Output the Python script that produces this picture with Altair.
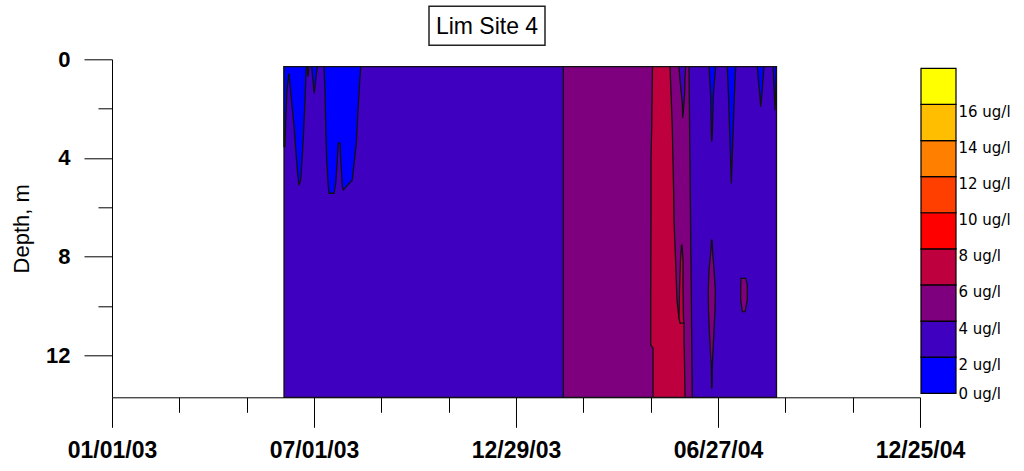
import altair as alt
import pandas as pd
from datetime import datetime

FONT = "Liberation Sans"

# ---------------- colour classes (ug/l) ----------------
CLASS_LO = [0, 2, 4, 6, 8, 10, 12, 14, 16]
CLASS_HI = [2, 4, 6, 8, 10, 12, 14, 16, 18]
CLASS_MID = [1, 3, 5, 7, 9, 11, 13, 15, 17]
CLASS_COLORS = ["#0000FF", "#3F00BF", "#7F007F", "#BF003F", "#FF0000",
                "#FF3F00", "#FF7F00", "#FFBF00", "#FFFF00"]
THRESHOLDS = [2, 4, 6, 8, 10, 12, 14, 16]
LEGEND_LABEL_VALUES = [0, 2, 4, 6, 8, 10, 12, 14, 16]

# ---------------- axes ----------------
X_DOMAIN = ["2003-01-01T00:00", "2004-12-25T00:00"]
X_MAJOR = ["2003-01-01T00:00", "2003-07-01T00:00", "2003-12-29T00:00",
           "2004-06-27T00:00", "2004-12-25T00:00"]
X_MINOR = ["2003-03-02T08:00", "2003-05-01T16:00", "2003-08-30T08:00",
           "2003-10-29T16:00", "2004-02-27T08:00", "2004-04-27T16:00",
           "2004-08-26T08:00", "2004-10-25T16:00"]
Y_DOMAIN = [0, 13.7]
Y_MAJOR = [0, 4, 8, 12]
Y_MINOR = [2, 6, 10]

# ---------------- measured section ----------------
DATA_START = "2003-06-04T03:00"
DATA_END = "2004-08-18T10:00"
DATA_TOP = 0.3
DATA_BOTTOM = 13.7
BASE_CONC = 3  # 2-4 ug/l everywhere else

# blue (0-2 ug/l) fingers hanging from the surface: date, lower depth
FINGER_A_DATES = ["2003-06-04T03:00", "2003-06-05T00:00", "2003-06-05T15:00", "2003-06-06T19:00",
                  "2003-06-08T14:00", "2003-06-10T09:00", "2003-06-13T02:00", "2003-06-16T01:00",
                  "2003-06-17T13:00", "2003-06-19T02:00", "2003-06-21T04:00", "2003-06-22T23:00",
                  "2003-06-24T02:00"]
FINGER_A_DEPTHS = [3.54, 3.54, 2.59, 1.24, 0.57, 1.45, 2.73, 4.49, 5.10, 4.89, 3.41, 1.65, 0.3]
FINGER_A2_DATES = ["2003-06-24T18:00", "2003-06-25T15:00", "2003-06-26T12:00"]
FINGER_A2_DEPTHS = [0.3, 0.7, 0.3]
FINGER_A3_DATES = ["2003-06-28T23:00", "2003-06-30T03:00", "2003-07-01T06:00",
                   "2003-07-02T08:00", "2003-07-03T23:00"]
FINGER_A3_DEPTHS = [0.3, 0.9, 1.38, 0.9, 0.3]
FINGER_B_DATES = ["2003-07-09T23:00", "2003-07-10T21:00", "2003-07-11T12:00", "2003-07-12T09:00",
                  "2003-07-13T20:00", "2003-07-14T11:00", "2003-07-18T22:00", "2003-07-20T11:00",
                  "2003-07-21T21:00", "2003-07-22T19:00", "2003-07-24T07:00", "2003-07-24T22:00",
                  "2003-07-26T09:00", "2003-07-27T06:00", "2003-08-04T08:00", "2003-08-07T22:00",
                  "2003-08-09T10:00", "2003-08-11T05:00", "2003-08-11T20:00"]
FINGER_B_DEPTHS = [0.3, 1.38, 2.73, 4.08, 5.16, 5.43, 5.43, 5.03, 4.08, 3.40, 3.40, 4.08,
                   5.16, 5.30, 4.89, 3.40, 2.06, 0.71, 0.3]
FINGER_D_DATES = ["2004-06-18T23:00", "2004-06-19T20:00", "2004-06-20T11:00", "2004-06-21T00:00",
                  "2004-06-21T09:00", "2004-06-21T22:00", "2004-06-22T19:00", "2004-06-24T01:00",
                  "2004-06-24T23:00"]
FINGER_D_DEPTHS = [0.3, 1.0, 1.5, 3.0, 3.34, 3.0, 1.5, 0.8, 0.3]
FINGER_E_DATES = ["2004-07-05T08:00", "2004-07-06T10:00", "2004-07-07T12:00", "2004-07-08T09:00",
                  "2004-07-08T22:00", "2004-07-09T13:00", "2004-07-10T11:00", "2004-07-11T15:00",
                  "2004-07-12T21:00"]
FINGER_E_DEPTHS = [0.3, 1.5, 3.0, 4.2, 5.03, 4.2, 3.0, 1.5, 0.3]
FINGER_F_DATES = ["2004-08-01T05:00", "2004-08-02T11:00", "2004-08-03T15:00", "2004-08-04T06:00",
                  "2004-08-05T04:00", "2004-08-06T08:00", "2004-08-07T05:00"]
FINGER_F_DEPTHS = [0.3, 1.0, 1.5, 1.92, 1.5, 0.8, 0.3]
FINGER_G_DATES = ["2004-08-15T07:00", "2004-08-16T11:00", "2004-08-17T02:00",
                  "2004-08-17T17:00", "2004-08-18T06:00"]
FINGER_G_DEPTHS = [0.3, 1.4, 2.06, 1.4, 0.3]

# 2-4 ug/l finger inside the 4-6 band
FINGER_C_DATES = ["2004-05-23T01:00", "2004-05-23T17:00", "2004-05-25T03:00", "2004-05-26T00:00",
                  "2004-05-26T09:00", "2004-05-27T13:00", "2004-05-28T04:00", "2004-05-28T11:00",
                  "2004-05-29T01:00"]
FINGER_C_DEPTHS = [0.3, 0.72, 1.38, 1.78, 2.38, 1.78, 1.38, 0.72, 0.3]

# bands given as left / right date for each depth
PURPLE_DEPTHS = [0.3, 6.5, 13.7]
PURPLE_LEFT = ["2004-02-09T09:00", "2004-02-09T09:00", "2004-02-09T09:00"]
PURPLE_RIGHT = ["2004-06-01T00:00", "2004-06-02T09:00", "2004-06-03T23:00"]

CRIMSON_DEPTHS = [0.3, 2.75, 4.1, 5.43, 6.51, 8.26, 9.76, 10.49, 10.69, 11.58, 11.7, 13.7]
CRIMSON_LEFT = ["2004-04-29T07:00", "2004-04-28T14:00", "2004-04-27T23:00", "2004-04-27T23:00",
                "2004-04-27T23:00", "2004-04-27T19:00", "2004-04-27T17:00", "2004-04-27T17:00",
                "2004-04-27T17:00", "2004-04-27T17:00", "2004-04-29T18:00", "2004-04-29T18:00"]
CRIMSON_RIGHT = ["2004-05-15T00:00", "2004-05-17T01:00", "2004-05-17T16:00", "2004-05-18T07:00",
                 "2004-05-18T14:00", "2004-05-20T02:00", "2004-05-21T06:00", "2004-05-23T01:00",
                 "2004-05-27T13:00", "2004-05-27T13:00", "2004-05-27T19:00", "2004-05-28T11:00"]

TONGUE_DEPTHS = [7.53, 8.14, 9.36, 10.49, 10.69]
TONGUE_LEFT = ["2004-05-25T07:00", "2004-05-24T10:00", "2004-05-23T12:00",
               "2004-05-23T01:00", "2004-05-23T23:00"]
TONGUE_RIGHT = ["2004-05-25T18:00", "2004-05-26T16:00", "2004-05-26T16:00",
                "2004-05-27T02:00", "2004-05-27T13:00"]

PATCH1_DEPTHS = [7.33, 7.86, 8.54, 9.35, 10.16, 10.97, 11.78, 12.39, 13.32]
PATCH1_LEFT = ["2004-06-21T04:00", "2004-06-20T11:00", "2004-06-18T23:00", "2004-06-18T07:00",
               "2004-06-18T12:00", "2004-06-19T05:00", "2004-06-20T03:00", "2004-06-21T00:00",
               "2004-06-21T06:00"]
PATCH1_RIGHT = ["2004-06-21T15:00", "2004-06-22T06:00", "2004-06-23T10:00", "2004-06-24T14:00",
                "2004-06-24T08:00", "2004-06-23T10:00", "2004-06-22T13:00", "2004-06-21T22:00",
                "2004-06-21T15:00"]
PATCH2_DEPTHS = [8.88, 9.15, 9.76, 10.23]
PATCH2_LEFT = ["2004-07-17T15:00", "2004-07-17T08:00", "2004-07-17T08:00", "2004-07-18T19:00"]
PATCH2_RIGHT = ["2004-07-21T20:00", "2004-07-23T06:00", "2004-07-23T06:00", "2004-07-21T05:00"]

TITLE = "Lim Site 4"
LINE_W = 1.3


def dt(s):
    d = datetime.strptime(s, "%Y-%m-%dT%H:%M")
    return alt.DateTime(year=d.year, month=d.month, date=d.day, hours=d.hour, minutes=d.minute)


def fingers_df(specs):
    rows = []
    for fid, conc, dates, depths in specs:
        for d, z in zip(dates, depths):
            rows.append({"id": fid, "conc": conc, "date": d, "top": DATA_TOP, "depth": z})
    return pd.DataFrame(rows)


def bands_df(specs):
    rows = []
    for bid, conc, depths, left, right in specs:
        for z, l, r in zip(depths, left, right):
            rows.append({"id": bid, "conc": conc, "depth": z, "left": l, "right": r})
    return pd.DataFrame(rows)


x_scale = alt.Scale(domain=[dt(s) for s in X_DOMAIN], nice=False)
y_scale = alt.Scale(domain=Y_DOMAIN, reverse=True, nice=False, zero=False)
color_scale = alt.Scale(type="threshold", domain=THRESHOLDS, range=CLASS_COLORS)
color_enc = alt.Color("conc:Q", scale=color_scale, legend=None)

x_major_axis = alt.Axis(values=[dt(s) for s in X_MAJOR], format="%m/%d/%y", orient="bottom",
                        title=None, grid=False, tickSize=30, labelPadding=12,
                        labelFont=FONT, labelFontSize=23, labelFontWeight="bold",
                        labelFlush=False, labelOverlap=False)
x_minor_axis = alt.Axis(values=[dt(s) for s in X_MINOR], orient="bottom", title=None, grid=False,
                        tickSize=15, labels=False, domain=False)
y_major_axis = alt.Axis(values=Y_MAJOR, orient="left", grid=False, tickSize=28, labelPadding=14,
                        labelFont=FONT, labelFontSize=22, labelFontWeight="bold",
                        title="Depth, m", titleFont=FONT, titleFontSize=22,
                        titleFontWeight="normal", titlePadding=12)
y_minor_axis = alt.Axis(values=Y_MINOR, orient="left", grid=False, tickSize=14, labels=False,
                        domain=False, title=None)

base_df = pd.DataFrame({"start": [DATA_START], "end": [DATA_END], "top": [DATA_TOP],
                        "bottom": [DATA_BOTTOM], "conc": [BASE_CONC]})
base = alt.Chart(base_df).mark_rect(stroke="#111111", strokeWidth=LINE_W).encode(
    x=alt.X("start:T", scale=x_scale, axis=x_major_axis),
    x2="end:T",
    y=alt.Y("top:Q", scale=y_scale, axis=y_major_axis),
    y2="bottom:Q",
    color=color_enc,
)


def band_layer(df, with_axes=False):
    return alt.Chart(df).mark_area(orient="horizontal", stroke="#111111", strokeWidth=LINE_W,
                                   opacity=1).encode(
        y=alt.Y("depth:Q", scale=y_scale, stack=None,
                axis=y_minor_axis if with_axes else None),
        x=alt.X("left:T", scale=x_scale, axis=x_minor_axis if with_axes else None),
        x2="right:T",
        color=color_enc,
        detail="id:N",
    )


def finger_layer(df):
    return alt.Chart(df).mark_area(orient="vertical", stroke="#111111", strokeWidth=LINE_W,
                                   opacity=1).encode(
        x=alt.X("date:T", scale=x_scale, axis=None),
        y=alt.Y("top:Q", scale=y_scale, stack=None, axis=None),
        y2="depth:Q",
        color=color_enc,
        detail="id:N",
    )


purple = band_layer(bands_df([("purple", 5, PURPLE_DEPTHS, PURPLE_LEFT, PURPLE_RIGHT)]),
                    with_axes=True)
crimson = band_layer(bands_df([("crimson", 7, CRIMSON_DEPTHS, CRIMSON_LEFT, CRIMSON_RIGHT),
                               ("tongue", 7, TONGUE_DEPTHS, TONGUE_LEFT, TONGUE_RIGHT)]))
blue_left = finger_layer(fingers_df([("A", 1, FINGER_A_DATES, FINGER_A_DEPTHS),
                                     ("A2", 1, FINGER_A2_DATES, FINGER_A2_DEPTHS),
                                     ("A3", 1, FINGER_A3_DATES, FINGER_A3_DEPTHS),
                                     ("B", 1, FINGER_B_DATES, FINGER_B_DEPTHS)]))
indigo_c = finger_layer(fingers_df([("C", 3, FINGER_C_DATES, FINGER_C_DEPTHS)]))
blue_right = finger_layer(fingers_df([("D", 1, FINGER_D_DATES, FINGER_D_DEPTHS),
                                      ("E", 1, FINGER_E_DATES, FINGER_E_DEPTHS),
                                      ("F", 1, FINGER_F_DATES, FINGER_F_DEPTHS),
                                      ("G", 1, FINGER_G_DATES, FINGER_G_DEPTHS)]))
patches = band_layer(bands_df([("P1", 5, PATCH1_DEPTHS, PATCH1_LEFT, PATCH1_RIGHT),
                               ("P2", 5, PATCH2_DEPTHS, PATCH2_LEFT, PATCH2_RIGHT)]))

title_data = alt.Data(values=[{"t": TITLE}])
title_box = alt.Chart(title_data).mark_rect(fill="white", stroke="#222222", strokeWidth=1.5).encode(
    x=alt.value(317), x2=alt.value(433), y=alt.value(-53), y2=alt.value(-14))
title_text = alt.Chart(title_data).mark_text(font=FONT, fontSize=23, color="black",
                                             align="center", baseline="middle").encode(
    x=alt.value(375), y=alt.value(-32), text="t:N")

main = alt.layer(base, purple, crimson, indigo_c, blue_left, blue_right, patches,
                 title_box, title_text).resolve_axis(x="independent", y="independent").properties(
    width=808, height=338)

cbar_df = pd.DataFrame({"lo": CLASS_LO, "hi": CLASS_HI, "conc": CLASS_MID})
cbar = alt.Chart(cbar_df).mark_rect(stroke="black", strokeWidth=1.2).encode(
    x=alt.value(0), x2=alt.value(35),
    y=alt.Y("lo:Q", scale=alt.Scale(domain=[0, 18.5], nice=False, zero=True),
            axis=alt.Axis(orient="right", values=LEGEND_LABEL_VALUES,
                          labelExpr="datum.value + ' ug/l'", ticks=False, tickSize=0,
                          domain=False, grid=False, labelPadding=2, title=None,
                          labelFont="DejaVu Sans", labelFontSize=15,
                          labelBaseline={"condition": {"test": "datum.value === 0",
                                                       "value": "middle"},
                                         "value": "top"})),
    y2="hi:Q",
    color=color_enc,
).properties(width=35, height=334)

chart = alt.hconcat(main, cbar, spacing=1, bounds="flush").properties(
    padding={"left": 10, "top": 5.3, "right": 0, "bottom": 0}
).configure_view(stroke=None).configure_axis(
    domainColor="black", tickColor="black", labelColor="black", titleColor="black",
    domainWidth=1, tickWidth=1
).configure_legend(disable=True)

chart.save("out.html", embed_options={"renderer": "svg", "actions": False})
